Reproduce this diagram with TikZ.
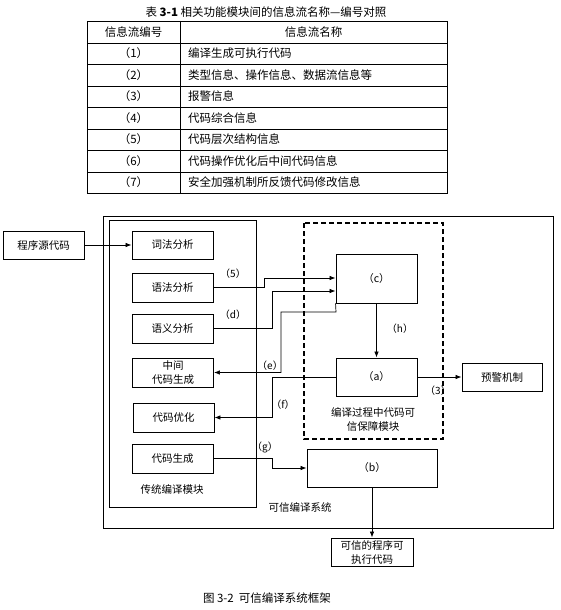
\documentclass[tikz,border=0pt]{standalone}
\usepackage{fontspec}
\setmainfont{Noto Sans CJK SC}
\usetikzlibrary{arrows.meta}
\begin{document}
\begin{tikzpicture}[x=1pt,y=-1pt,
  every node/.style={font=\fontsize{10.5}{14}\selectfont, inner sep=0pt},
  box/.style={draw, line width=0.9pt, minimum width=81pt, minimum height=28pt, align=center},
  lbl/.style={font=\fontsize{10}{12}\selectfont},
  tab/.style={font=\fontsize{11.5}{13}\selectfont},
  conn/.style={line width=0.7pt},
  arr/.style={conn, -{Latex[length=6pt,width=4.5pt]}},
  frame/.style={draw, line width=0.9pt}]
\useasboundingbox (0,0) rectangle (561,610);
\fill[white] (0,0) rectangle (561,610);

% ---------- table ----------
\node[font=\fontsize{11.5}{13}\selectfont] (ttl) at (266,12) {表 \textbf{3-1} 相关功能模块间的信息流名称—编号对照};
\draw[line width=0.8pt] (87,21) rectangle (447,193);
\draw[line width=0.6pt] (180,21) -- (180,193);
\foreach \yy in {43,64,86,107,129,150,172} \draw[line width=0.6pt] (87,\yy) -- (447,\yy);
\node[tab] (h1) at (133.5,32) {信息流编号};
\node[tab] (h2) at (313.5,32) {信息流名称};
\node[tab] (n1) at (133.5,53.5) {（1）};
\node[tab] (n2) at (133.5,75) {（2）};
\node[tab] (n3) at (133.5,96.5) {（3）};
\node[tab] (n4) at (133.5,118) {（4）};
\node[tab] (n5) at (133.5,139.5) {（5）};
\node[tab] (n6) at (133.5,161) {（6）};
\node[tab] (n7) at (133.5,182.5) {（7）};
\node[tab,anchor=west] (t1) at (188,53.5) {编译生成可执行代码};
\node[tab,anchor=west] (t2) at (188,75) {类型信息、操作信息、数据流信息等};
\node[tab,anchor=west] (t3) at (188,96.5) {报警信息};
\node[tab,anchor=west] (t4) at (188,118) {代码综合信息};
\node[tab,anchor=west] (t5) at (188,139.5) {代码层次结构信息};
\node[tab,anchor=west] (t6) at (188,161) {代码操作优化后中间代码信息};
\node[tab,anchor=west] (t7) at (188,182.5) {安全加强机制所反馈代码修改信息};

% ---------- frames ----------
\draw[frame] (103,216) rectangle (553,528);
\draw[frame] (109,220) rectangle (256,507);
\draw[line width=1.6pt, dash pattern=on 5pt off 3pt] (304,223) rectangle (443,439);

% ---------- boxes ----------
\node[box] (src) at (43.5,245) {程序源代码};
\node[box] (lex) at (172.5,245) {词法分析};
\node[box, minimum height=29pt] (syn) at (172.5,287.5) {语法分析};
\node[box, minimum height=29pt] (sem) at (172.5,328.5) {语义分析};
\node[box, minimum height=29pt] (mid) at (173,372.5) {中间\\代码生成};
\node[box, minimum height=29pt] (opt) at (173.5,417.5) {代码优化};
\node[box, minimum height=29pt] (gen) at (172.5,458.5) {代码生成};
\node[box, minimum height=49pt] (c) at (376.5,278.5) {（c）};
\node[box, minimum height=38pt] (a) at (376.5,377) {（a）};
\node[box, minimum width=80pt] (warn) at (502,377) {预警机制};
\node[box, minimum width=130pt, minimum height=38pt] (b) at (372,468) {（b）};
\node[box, minimum width=82pt] (out) at (372,552) {可信的程序可\\执行代码};

% ---------- labels ----------
\node (lbtrad) at (172,489) {传统编译模块};
\node (lbsys) at (300,507) {可信编译系统};
\node[align=center] (lbguard) at (373,419) {编译过程中代码可\\信保障模块};
\node[font=\fontsize{11.5}{13}\selectfont] (cap) at (267,598) {图 3-2\ \ 可信编译系统框架};
\node[lbl] (l5) at (233,274) {（5）};
\node[lbl] (ld) at (233,315) {（d）};
\node[lbl] (le) at (270,366) {（e）};
\node[lbl] (lf) at (283,405) {（f）};
\node[lbl] (lg) at (265,447) {（g）};
\node[lbl] (lh) at (400,329) {（h）};
\node[lbl] (l3) at (438,391) {（3）};

% ---------- connectors ----------
\draw[arr] (src) -- (lex);
\draw[arr] (syn.east) -- (264,287.5) -- (264,278) -- (c.west |- 0,278);
\draw[arr] (sem.east) -- (272,328.5) -- (272,291) -- (c.west |- 0,291);
\draw[arr] (c.south west) -- (336,312) -- (281,312) -- (281,372.5) -- (mid.east);
\draw[arr] (a.west) -- (272,377) -- (272,417.5) -- (opt.east);
\draw[arr] (gen.east) -- (272,458.5) -- (272,468) -- (b.west);
\draw[arr] (c.south) -- (a.north);
\draw[arr] (a.east) -- (warn.west);
\draw[arr] (b.south) -- (out.north);
\end{tikzpicture}
\end{document}
